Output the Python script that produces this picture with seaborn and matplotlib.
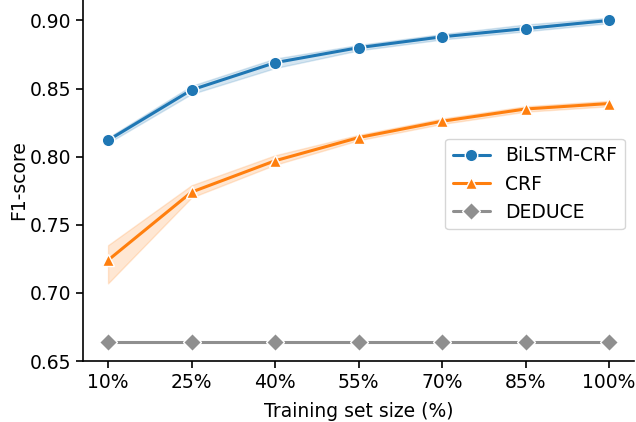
import matplotlib
matplotlib.use("Agg")
import matplotlib.pyplot as plt
import seaborn as sns
import pandas as pd

sizes = ["10%", "25%", "40%", "55%", "70%", "85%", "100%"]

# median F1 per training size, with lower / upper band edges
bilstm_mid = [0.812, 0.849, 0.869, 0.880, 0.888, 0.894, 0.900]
bilstm_lo = [0.810, 0.846, 0.865, 0.878, 0.886, 0.892, 0.898]
bilstm_hi = [0.814, 0.852, 0.872, 0.882, 0.890, 0.897, 0.902]

crf_mid = [0.724, 0.774, 0.797, 0.814, 0.826, 0.835, 0.839]
crf_lo = [0.707, 0.770, 0.794, 0.812, 0.824, 0.833, 0.837]
crf_hi = [0.735, 0.779, 0.801, 0.816, 0.828, 0.837, 0.841]

deduce_mid = [0.664] * 7

rows = []
for name, runs in [
    ("BiLSTM-CRF", [bilstm_lo, bilstm_mid, bilstm_hi]),
    ("CRF", [crf_lo, crf_mid, crf_hi]),
    ("DEDUCE", [deduce_mid, deduce_mid, deduce_mid]),
]:
    for run in runs:
        for s, v in zip(sizes, run):
            rows.append({"size": s, "F1": v, "model": name})
df = pd.DataFrame(rows)

sns.set_style("ticks", {
    "axes.edgecolor": "black", "text.color": "black",
    "axes.labelcolor": "black", "xtick.color": "black", "ytick.color": "black",
})
plt.rcParams["font.family"] = ["DejaVu Sans"]
plt.rcParams["axes.linewidth"] = 1.2
plt.rcParams["xtick.major.width"] = 1.2
plt.rcParams["ytick.major.width"] = 1.2
plt.rcParams["xtick.major.size"] = 5
plt.rcParams["ytick.major.size"] = 5

fig, ax = plt.subplots(figsize=(6.36, 4.22), dpi=100)
fig.subplots_adjust(left=0.1305, right=0.997, bottom=0.1445, top=1.0)

palette = {"BiLSTM-CRF": "#1f77b4", "CRF": "#ff7f0e", "DEDUCE": "#8f8f8f"}
sns.lineplot(
    data=df, x="size", y="F1", hue="model", style="model",
    markers={"BiLSTM-CRF": "o", "CRF": "^", "DEDUCE": "D"},
    dashes=False, palette=palette, estimator="median",
    errorbar=lambda v: (v.min(), v.max()), err_kws={"alpha": 0.18},
    linewidth=2.2, markersize=9, markeredgecolor="white",
    markeredgewidth=1, ax=ax,
)

ax.set_ylim(0.65, 0.915)
ax.set_yticks([0.65, 0.70, 0.75, 0.80, 0.85, 0.90])
ax.set_xlabel("Training set size (%)", fontsize=13.5, labelpad=7)
ax.set_ylabel("F1-score", fontsize=13.5, labelpad=1)
ax.tick_params(labelsize=13.5)
sns.despine(ax=ax)

leg = ax.legend(loc="center right", bbox_to_anchor=(1.0, 0.49), fontsize=13.5,
                handlelength=2.0)
leg.set_title(None)

fig.savefig("out.png", dpi=100)
